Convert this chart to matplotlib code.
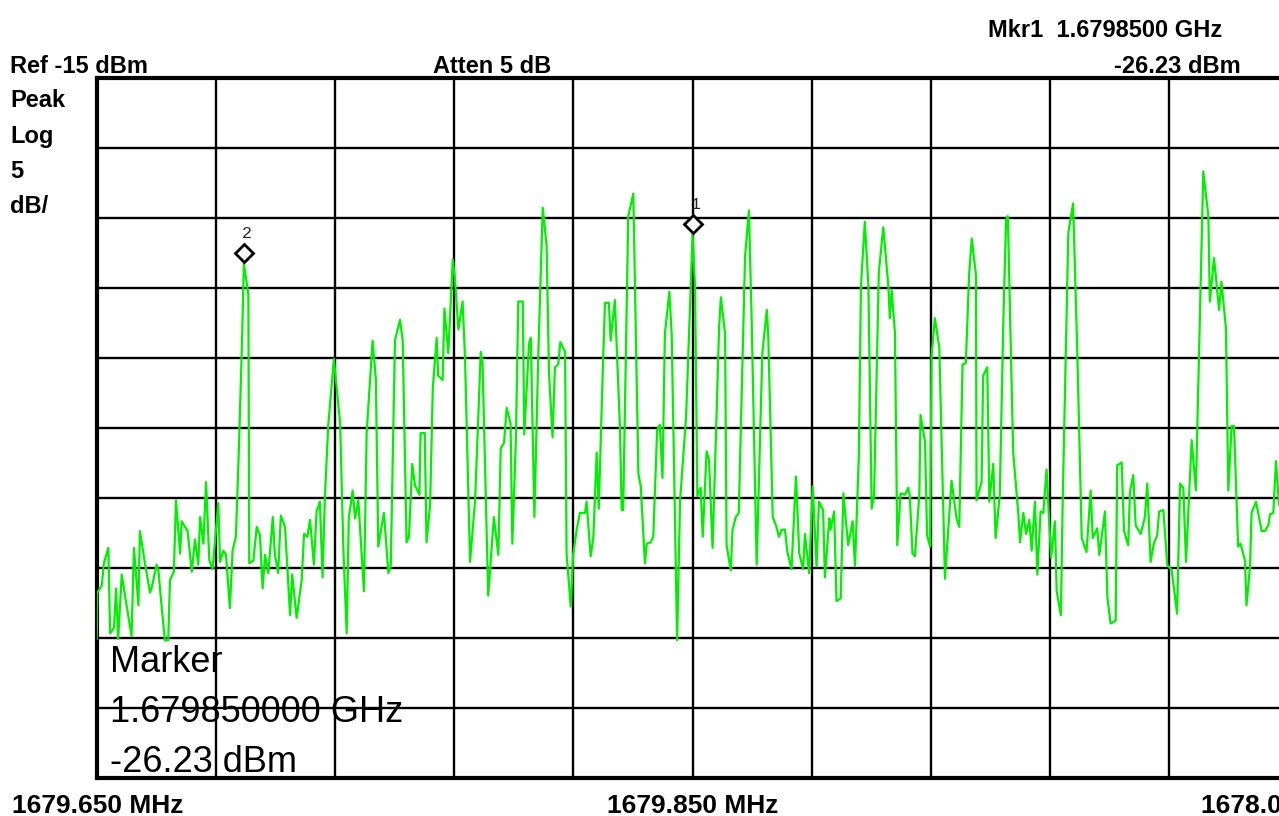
import matplotlib
matplotlib.use("Agg")
import matplotlib.pyplot as plt
import numpy as np
from matplotlib.transforms import offset_copy

# Sweep settings
START_MHZ = 1679.650
CENTER_MHZ = 1679.850
STOP_MHZ = 1680.050
REF_DBM = -15.0
DB_PER_DIV = 5.0
N_DIV = 10

# Marker readout
MKR1_FREQ_GHZ = 1.67985
MKR1_LEVEL_DBM = -26.23

# Trace points: offset from start frequency (kHz) and level (dBm)
offset_khz = [
    0.0, 0.2, 1.7, 2.4, 3.9, 4.5, 5.8, 6.5, 7.2, 8.4, 10.1, 11.7, 12.5, 14.0, 14.5,
    16.2, 17.9, 18.5, 20.1, 20.7, 21.8, 22.9, 24.0, 24.6, 25.9, 26.6, 28.0, 28.5,
    30.5, 31.9, 33.0, 34.1, 34.7, 35.8, 36.7, 37.8, 38.9, 40.8, 41.4, 42.5, 43.4,
    44.7, 45.6, 46.7, 47.5, 48.7, 49.4, 50.9, 51.2, 52.6, 53.7, 54.8, 55.7, 56.5,
    57.6, 59.1, 59.8, 60.9, 61.8, 63.2, 64.9, 65.6, 67.1, 68.8, 69.6, 70.7, 71.6,
    72.9, 73.8, 74.9, 75.8, 76.6, 77.7, 79.6, 81.7, 82.8, 83.9, 84.6, 85.9, 86.7,
    87.8, 89.7, 90.6, 92.6, 93.7, 94.5, 96.4, 97.9, 98.7, 100.1, 101.8, 102.7,
    104.0, 104.8, 105.9, 106.8, 108.3, 108.7, 110.1, 110.7, 111.9, 112.8, 114.1,
    114.6, 116.1, 116.7, 118.0, 119.5, 120.2, 121.4, 122.8, 123.6, 125.3, 127.0,
    128.9, 129.5, 131.4, 133.3, 134.8, 135.6, 136.7, 137.6, 138.9, 139.5, 140.7,
    141.5, 143.0, 143.5, 145.1, 145.7, 146.9, 148.2, 149.7, 151.0, 151.8, 153.0,
    153.8, 154.9, 155.6, 157.2, 157.7, 159.1, 159.9, 161.1, 162.2, 163.9, 164.4,
    165.8, 166.7, 167.8, 168.5, 170.0, 170.6, 171.9, 172.5, 173.9, 175.6, 176.2,
    176.7, 178.4, 180.1, 181.8, 182.6, 184.0, 184.6, 185.9, 186.8, 188.1, 189.0,
    189.9, 190.7, 192.2, 193.0, 194.8, 195.8, 197.8, 200.0, 200.8, 201.6, 202.7,
    203.4, 204.7, 205.5, 206.7, 207.5, 208.9, 209.5, 210.9, 211.4, 212.8, 213.4,
    214.5, 215.5, 217.6, 218.9, 219.8, 221.5, 223.4, 224.9, 225.4, 226.9, 228.0,
    229.0, 229.9, 231.0, 231.8, 233.2, 234.7, 235.8, 237.1, 237.7, 239.1, 240.3,
    241.6, 242.4, 243.8, 244.4, 245.9, 246.3, 247.5, 248.3, 249.7, 250.6, 252.2,
    253.7, 254.5, 255.8, 256.5, 257.8, 259.0, 260.1, 260.9, 262.5, 264.0, 265.7,
    266.2, 266.8, 267.9, 268.7, 269.8, 271.3, 272.4, 272.9, 273.8, 274.6, 276.1,
    276.5, 278.0, 278.7, 279.7, 280.2, 281.3, 282.8, 284.7, 286.9, 288.6, 289.5,
    290.6, 291.7, 292.8, 293.7, 295.1, 295.3, 297.0, 297.5, 298.9, 299.6, 300.9,
    301.7, 303.1, 304.3, 305.2, 305.8, 307.6, 309.3, 309.9, 311.0, 311.9, 313.0,
    313.8, 314.9, 315.7, 316.8, 317.7, 318.8, 320.3, 321.6, 322.2, 323.6, 324.2,
    326.1, 327.7, 329.1, 330.6, 332.2, 333.6, 334.3, 335.8, 336.5, 338.4, 339.2,
    340.3, 342.0, 342.5, 344.0, 344.8, 346.2, 346.8, 347.9, 348.7, 350.4, 351.8,
    352.6, 353.7, 354.8, 355.9, 356.6, 358.0, 359.3, 360.8, 362.6, 363.6, 364.7,
    365.6, 367.5, 368.9, 370.5, 371.4, 373.1, 373.6, 375.0, 376.7, 377.5, 379.0,
    379.8, 380.9, 381.7, 383.1, 383.9, 385.4, 385.9, 387.1, 387.6, 389.1, 391.0,
    392.1, 393.2, 393.8, 394.9, 395.8, 396.8,
]
level_dbm = [
    -55.1, -51.8, -51.3, -49.7, -48.6, -54.7, -54.3, -51.5, -55.1, -50.5, -52.8, -54.9, -48.6, -52.7, -47.4,
    -49.7, -51.8, -51.4, -49.8, -50.2, -52.8, -55.2, -55.2, -50.9, -50.3, -45.2, -49.0, -46.7,
    -47.4, -50.3, -48.0, -49.8, -46.4, -48.3, -43.9, -49.5, -50.1, -45.4, -49.6, -48.8, -49.1,
    -52.9, -48.8, -47.8, -43.0, -34.5, -28.3, -30.5, -49.7, -49.5, -47.1, -47.7, -51.5, -49.1,
    -50.4, -46.4, -49.1, -50.4, -46.3, -47.1, -53.4, -50.5, -53.6, -50.9, -47.6, -47.8, -46.6,
    -49.8, -46.0, -45.3, -50.7, -44.9, -39.9, -35.1, -39.7, -48.8, -54.7, -46.5, -44.5, -46.5,
    -45.2, -51.7, -40.4, -33.8, -36.6, -48.5, -46.1, -50.4, -49.8, -33.8, -32.3, -33.8,
    -48.2, -47.8, -42.6, -44.1, -44.8, -40.4, -40.4, -48.2, -45.5, -37.2, -33.6,
    -36.3, -36.6, -31.5, -34.7, -28.0, -29.3, -33.0, -31.0, -34.9, -49.6, -45.2,
    -34.6, -35.4, -52.0, -46.4, -49.1, -41.5, -41.1, -38.6, -39.7, -48.3, -40.8,
    -31.0, -31.0, -40.5, -34.0, -33.6, -46.4, -34.9, -24.3, -27.0, -36.1, -40.7,
    -35.7, -35.5, -33.9, -34.6, -49.0, -52.8, -49.1, -47.3, -46.1, -46.1, -45.3,
    -49.2, -47.8, -41.8, -45.8, -34.9, -31.1, -31.1, -33.8, -30.9, -39.9, -45.9,
    -45.9, -24.9, -23.3, -43.3, -44.2, -49.7, -48.3, -48.2, -47.8, -40.2, -39.8,
    -43.6, -33.3, -30.3, -33.5, -55.2, -45.2, -39.3, -26.23, -29.9, -44.9, -44.3,
    -47.8, -41.7, -42.3, -48.6, -43.0, -32.8, -30.7, -33.3, -48.4, -50.2, -47.3,
    -46.4, -46.1, -27.8, -24.5, -32.1, -49.8, -34.7, -31.6, -33.5, -46.4, -47.0,
    -47.8, -47.3, -47.3, -48.9, -50.1, -43.5, -49.0, -50.1, -47.6, -50.4, -44.2,
    -49.9, -45.3, -45.9, -50.7, -46.5, -47.3, -46.0, -52.4, -52.2, -44.7, -48.4,
    -46.7, -49.9, -42.0, -29.9, -25.3, -29.9, -45.8, -44.9, -28.9, -25.7, -29.9,
    -32.2, -30.2, -33.2, -48.4, -44.7, -44.8, -44.3, -44.9, -49.0, -49.2, -44.8,
    -39.1, -41.0, -47.7, -48.5, -34.9, -32.2, -34.3, -50.8, -43.8, -46.5, -47.1,
    -35.5, -35.4, -29.1, -26.5, -29.1, -45.2, -43.9, -36.3, -35.7, -45.3, -42.6,
    -47.9, -44.8, -32.3, -25.2, -24.9, -41.8, -46.1, -48.2, -46.1, -47.6, -46.6,
    -48.8, -45.3, -50.5, -46.0, -46.1, -43.0, -49.3, -46.7, -51.7, -53.4, -45.4,
    -26.1, -24.0, -34.5, -47.9, -48.9, -44.5, -47.9, -47.2, -49.1, -46.0, -52.1,
    -54.0, -53.8, -42.7, -42.5, -47.4, -48.4, -44.6, -43.4, -47.0, -47.6, -46.4,
    -44.0, -49.6, -48.3, -47.7, -46.0, -45.9, -49.8, -50.2, -53.3, -44.0, -44.3,
    -49.6, -40.9, -44.5, -29.7, -21.7, -24.9, -31.0, -27.9, -31.6, -29.6, -32.9,
    -44.5, -39.9, -39.9, -48.5, -48.3, -49.5, -52.7, -49.9, -46.1, -45.3, -47.4,
    -47.4, -47.0, -46.2, -46.1, -42.4, -45.5,
]

W, H = 1279, 816
freq_mhz = START_MHZ + np.array(offset_khz) / 1000.0
level = np.array(level_dbm)

fig = plt.figure(figsize=(W / 100, H / 100), dpi=100)
ax = fig.add_axes([96.7 / W, (H - 777.5) / H, 1191.8 / W, 700 / H])

ax.plot(freq_mhz, level, color="#00f000", lw=1.6, zorder=3)

bottom = REF_DBM - N_DIV * DB_PER_DIV
ax.set_xlim(START_MHZ, STOP_MHZ)
ax.set_ylim(bottom, REF_DBM)
ax.set_xticks(np.linspace(START_MHZ, STOP_MHZ, N_DIV + 1))
ax.set_yticks(np.linspace(bottom, REF_DBM, N_DIV + 1))
ax.tick_params(length=0, labelbottom=False, labelleft=False)
ax.grid(True, color="black", lw=1.7, zorder=1)
ax.set_axisbelow(True)
for sp in ax.spines.values():
    sp.set_linewidth(3)

# Markers: diamond sits a little above the trace point, number above that
m1_f = MKR1_FREQ_GHZ * 1000.0
peak_zone = freq_mhz < START_MHZ + 0.1
m2_i = np.argmax(np.where(peak_zone, level, -999))
markers = [(1, m1_f, MKR1_LEVEL_DBM), (2, freq_mhz[m2_i], level[m2_i])]
lift = offset_copy(ax.transData, fig=fig, y=7.5, units="points")
for num, f, lv in markers:
    ax.plot([f], [lv], marker="D", ms=9, mfc="white", mec="black", mew=2,
            transform=lift, zorder=5, clip_on=False)
    ax.annotate(str(num), (f, lv), xytext=(2, 22), textcoords="offset points",
                ha="center", va="center", fontsize=12, color="#222222",
                family=["Liberation Mono", "DejaVu Sans Mono"])

sans = ["Liberation Sans", "DejaVu Sans"]


def put(x, y, s, **kw):
    fig.text(x / W, 1 - y / H, s, va="baseline", family=sans, **kw)


# Header
put(10, 73, "Ref -15 dBm", fontsize=17, weight="bold")
put(10, 107, "Peak", fontsize=17, weight="bold")
put(10, 143, "Log", fontsize=17, weight="bold")
put(10, 178, "5", fontsize=17, weight="bold")
put(10, 213, "dB/", fontsize=17, weight="bold")
put(492, 73, "Atten 5 dB", fontsize=17, weight="bold", ha="center")
put(1222, 37, f"Mkr1  {MKR1_FREQ_GHZ:.7f} GHz", fontsize=17, weight="bold", ha="right")
put(1241, 73, f"{MKR1_LEVEL_DBM:.2f} dBm", fontsize=17, weight="bold", ha="right")

# Marker readout box
put(110, 672, "Marker", fontsize=26)
put(110, 722, f"{MKR1_FREQ_GHZ:.9f} GHz", fontsize=26)
put(110, 772, f"{MKR1_LEVEL_DBM:.2f} dBm", fontsize=26)

# Frequency labels along the bottom
put(12, 813, f"{START_MHZ:.3f} MHz", fontsize=19, weight="bold")
put(693, 813, f"{CENTER_MHZ:.3f} MHz", fontsize=19, weight="bold", ha="center")
put(1201, 813, "1678.050 MHz", fontsize=19, weight="bold")

fig.savefig("out.png", dpi=100)
